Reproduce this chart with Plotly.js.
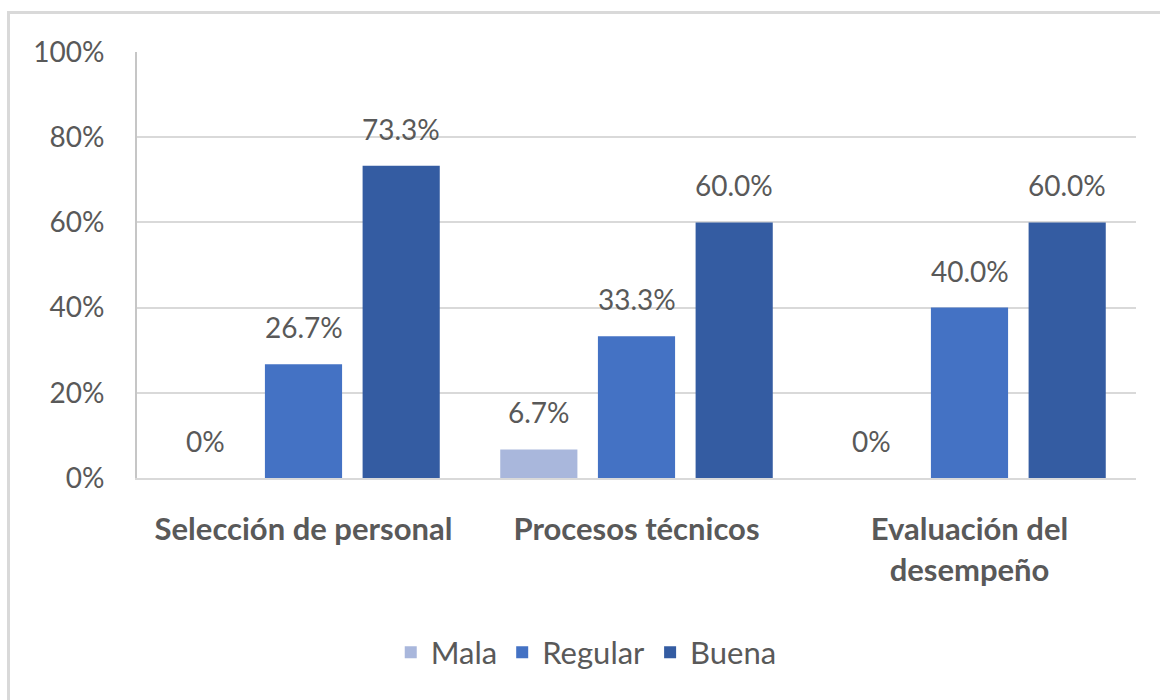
<!DOCTYPE html>
<html>
<head>
<meta charset="utf-8">
<script src="https://cdn.plot.ly/plotly-3.0.1.min.js"></script>
<style>
  html, body { margin: 0; padding: 0; background: #ffffff; }
  #wrap { position: relative; width: 1160px; height: 700px; overflow: hidden; }
  #chart { position: absolute; left: 0; top: 0; width: 1160px; height: 700px; }
  #frame { position: absolute; left: 7px; top: 11px; width: 1200px; height: 800px;
           border: 3px solid #d9d9d9; pointer-events: none; box-sizing: border-box; }
</style>
</head>
<body>
<div id="wrap">
  <div id="chart"></div>
  <div id="frame"></div>
</div>
<script>
// ---- data ----
var categories = ["Selección de personal", "Procesos técnicos", "Evaluación del desempeño"];
var categoryTickText = ["Selección de personal", "Procesos técnicos", "Evaluación del<br>desempeño"];
var seriesNames = ["Mala", "Regular", "Buena"];
var mala = [0, 6.7, 0];
var regular = [26.7, 33.3, 40.0];
var buena = [73.3, 60.0, 60.0];
var yTickValues = [0, 20, 40, 60, 80, 100];
var yTickLabels = ["0%", "20%", "40%", "60%", "80%", "100%"];

// ---- styles ----
var colors = ["#a9b7dc", "#4472c4", "#345ca2"];
var textColor = "#595959";
var fontFamily = "Lato, 'Open Sans', sans-serif";
var BARGAP = 0.12, BARGROUPGAP = 0.21;

function fmt(v) { return v === 0 ? "0%" : v.toFixed(1) + "%"; }

var seriesValues = [mala, regular, buena];
var idx = categories.map(function (c, i) { return i; });

var traces = seriesValues.map(function (vals, s) {
  return {
    type: "bar",
    name: seriesNames[s],
    x: idx,
    y: vals,
    marker: { color: colors[s] },
    hoverinfo: "skip"
  };
});

var slot = (1 - BARGAP) / seriesValues.length;
var annotations = [];
seriesValues.forEach(function (vals, s) {
  var off = (s - (seriesValues.length - 1) / 2) * slot;
  vals.forEach(function (v, i) {
    annotations.push({
      x: i + off, y: v, xref: "x", yref: "y",
      text: fmt(v), showarrow: false,
      xanchor: "center", yanchor: "middle", yshift: 37,
      font: { family: fontFamily, size: 28, color: textColor }
    });
  });
});

var layout = {
  width: 1160, height: 700,
  paper_bgcolor: "#ffffff", plot_bgcolor: "#ffffff",
  margin: { l: 137, r: 24, t: 52, b: 222, pad: 0 },
  barmode: "group",
  bargap: BARGAP, bargroupgap: BARGROUPGAP,
  showlegend: true,
  legend: {
    orientation: "h", x: 0.254, xanchor: "left", y: -0.41, yanchor: "middle",
    font: { family: fontFamily, size: 31, color: textColor },
    traceorder: "normal"
  },
  xaxis: {
    type: "linear",
    range: [-0.5, 2.5],
    tickvals: idx, ticktext: categoryTickText,
    tickfont: { family: fontFamily, size: 31, color: textColor, weight: "bold" },
    showgrid: false, zeroline: false,
    showline: true, linecolor: "#d9d9d9", linewidth: 2,
    ticks: "", ticklabelstandoff: 23,
    fixedrange: true
  },
  yaxis: {
    range: [0, 100],
    tickvals: yTickValues, ticktext: yTickLabels,
    tickfont: { family: fontFamily, size: 28, color: textColor },
    showgrid: true, gridcolor: "#d9d9d9", gridwidth: 2,
    zeroline: false,
    showline: true, linecolor: "#c6c6c6", linewidth: 2,
    ticks: "", ticklabelstandoff: 25,
    fixedrange: true
  },
  annotations: annotations
};

Plotly.newPlot("chart", traces, layout, { displayModeBar: false, staticPlot: true });
</script>
</body>
</html>
